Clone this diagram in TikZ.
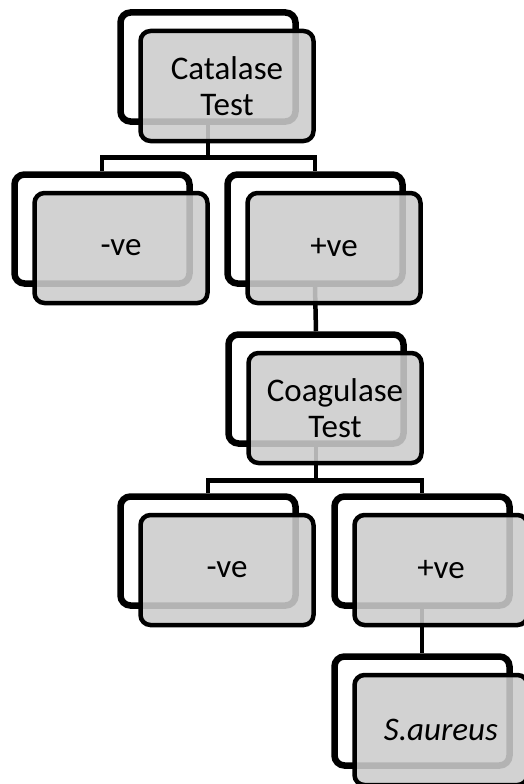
\documentclass[tikz,border=0pt]{standalone}
\usepackage{fontspec}
\setmainfont{Carlito}
\usetikzlibrary{calc,shadows.blur}
\definecolor{frontfill}{RGB}{204,204,204}
\tikzset{
  backbox/.style={draw=black, line width=6.5pt, fill=white, rounded corners=10pt,
    minimum width=175pt, minimum height=109pt, inner sep=0pt,
    blur shadow={shadow xshift=1pt, shadow yshift=-2pt, shadow blur steps=6, shadow opacity=25}},
  frontbox/.style={draw=black, line width=4.5pt, fill=frontfill, fill opacity=0.88, text opacity=1,
    text=black, rounded corners=10pt, minimum width=173pt, minimum height=110pt, inner sep=0pt,
    align=center, font=\fontsize{33}{36}\selectfont},
  link/.style={draw=black, line width=4.5pt},
}
\begin{document}
\begin{tikzpicture}[x=1pt,y=1pt]
\useasboundingbox (0,0) rectangle (523,-784);
% back boxes
\node[backbox] (a) at (208,-67) {};
\node[backbox] (b) at (102,-229) {};
\node[backbox] (c) at (315,-229) {};
\node[backbox] (d) at (316,-389) {};
\node[backbox] (e) at (208,-551) {};
\node[backbox] (f) at (422,-551) {};
\node[backbox] (g) at (422,-711) {};
% connectors
\draw[link] (a.south) |- ($(b.north)+(0,14)$) -- (b.north);
\draw[link] (a.south) |- ($(c.north)+(0,14)$) -- (c.north);
\draw[link] (c.south) -- (d.north);
\draw[link] (d.south) |- ($(e.north)+(0,13)$) -- (e.north);
\draw[link] (d.south) |- ($(f.north)+(0,13)$) -- (f.north);
\draw[link] (f.south) -- (g.north);
% front boxes
\node[frontbox] (af) at ($(a)+(19,-19)$) {Catalase\\Test};
\node[frontbox] (bf) at ($(b)+(19,-19)$) {-ve};
\node[frontbox] (cf) at ($(c)+(19,-19)$) {+ve};
\node[frontbox] (df) at ($(d)+(19,-19)$) {Coagulase\\Test};
\node[frontbox] (ef) at ($(e)+(19,-19)$) {-ve};
\node[frontbox] (ff) at ($(f)+(19,-19)$) {+ve};
\node[frontbox] (gf) at ($(g)+(19,-19)$) {\itshape S.aureus};
\end{tikzpicture}
\end{document}
